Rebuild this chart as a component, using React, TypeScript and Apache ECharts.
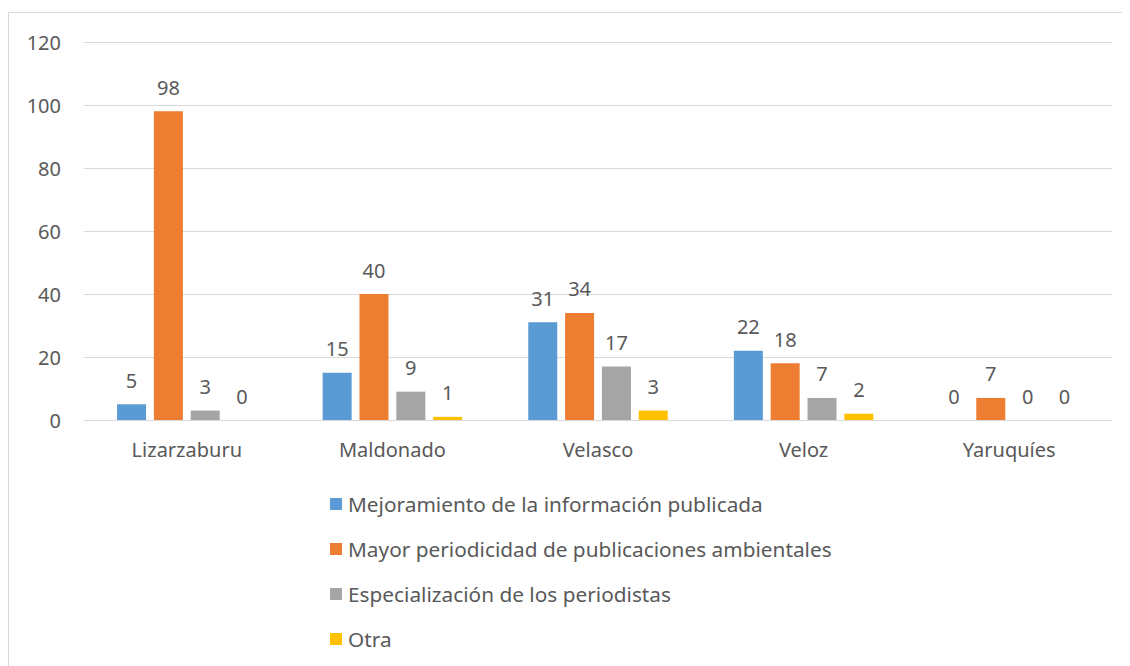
import React, { useEffect, useRef } from "react";
import * as echarts from "echarts";

const categories = ["Lizarzaburu", "Maldonado", "Velasco", "Veloz", "Yaruquíes"];
const seriesNames = [
  "Mejoramiento de la información publicada",
  "Mayor periodicidad de publicaciones ambientales",
  "Especialización de los periodistas",
  "Otra",
];
const mejoramiento = [5, 15, 31, 22, 0];
const periodicidad = [98, 40, 34, 18, 7];
const especializacion = [3, 9, 17, 7, 0];
const otra = [0, 1, 3, 2, 0];
const colors = ["#5B9BD5", "#ED7D31", "#A5A5A5", "#FFC000"];

const FONT = "Noto Sans";
const TEXT = "#595959";

export default function App() {
  const ref = useRef<HTMLDivElement>(null);
  useEffect(() => {
    if (!ref.current) return;
    const chart = echarts.init(ref.current, undefined, { renderer: "svg" });
    const data = [mejoramiento, periodicidad, especializacion, otra];
    chart.setOption({
      animation: false,
      textStyle: { fontFamily: FONT },
      graphic: [
        {
          type: "rect",
          shape: { x: 0.5, y: 4.5, width: 1300, height: 800 },
          style: { fill: "none", stroke: "#D9D9D9", lineWidth: 1 },
          silent: true,
        },
      ],
      grid: { left: 76, right: 18, top: 34, height: 378, containLabel: false },
      legend: {
        orient: "vertical",
        left: 322,
        top: 484,
        padding: 0,
        itemWidth: 12,
        itemHeight: 12,
        itemGap: 21,
        icon: "rect",
        data: seriesNames,
        textStyle: { fontFamily: FONT, fontSize: 20.8, color: TEXT, lineHeight: 24, padding: [0, 0, 0, 1] },
      },
      xAxis: {
        type: "category",
        data: categories,
        axisLine: { lineStyle: { color: "#D9D9D9", width: 1 } },
        axisTick: { show: false },
        axisLabel: { color: TEXT, fontSize: 20, fontFamily: FONT, margin: 19 },
      },
      yAxis: {
        type: "value",
        min: 0,
        max: 120,
        interval: 20,
        axisLine: { show: false },
        axisTick: { show: false },
        splitLine: { lineStyle: { color: "#D9D9D9", width: 1 } },
        axisLabel: { color: TEXT, fontSize: 20, fontFamily: FONT, margin: 23 },
      },
      series: seriesNames.map((name, i) => ({
        name,
        type: "bar",
        data: data[i],
        barWidth: 29,
        barGap: "27%",
        itemStyle: { color: colors[i] },
        label: {
          show: true,
          position: "top",
          distance: 14,
          color: TEXT,
          fontSize: 20,
          fontFamily: FONT,
        },
      })),
    });
    return () => chart.dispose();
  }, []);
  return <div ref={ref} style={{ width: 1122, height: 658 }} />;
}
